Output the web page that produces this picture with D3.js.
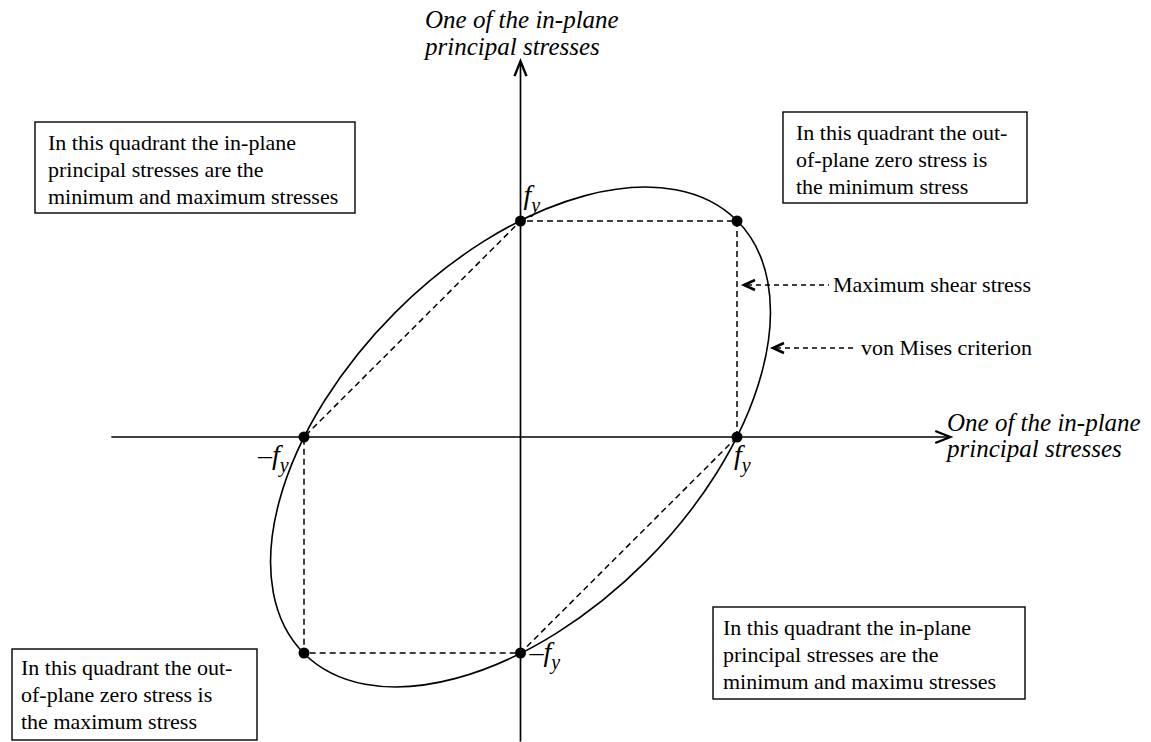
<!DOCTYPE html>
<html>
<head>
<meta charset="utf-8">
<script src="https://cdn.jsdelivr.net/npm/d3@7/dist/d3.min.js"></script>
<style>
  body { margin: 0; background: #fff; }
  svg { display: block; }
  text { font-family: "Liberation Serif", "Times New Roman", serif; fill: #000; }
</style>
</head>
<body>
<div id="chart"></div>
<script>
//width and height
var chart_width = 1151;
var chart_height = 742;

// principal stresses, in units of fy
var yield_points = [[1, 0], [1, 1], [0, 1], [-1, 0], [-1, -1], [0, -1]];   // tresca hexagon corners
var vm_axes = [1.414, 0.816];      // von Mises ellipse semi axes (fy)
var vm_angle = 45;                 // degrees
var x_extent = [-1.89, 1.985];
var y_extent = [-1.41, 1.74];

var point_labels = [
    {p: [0, 1], text: "f"},
    {p: [1, 0], text: "f"},
    {p: [-1, 0], text: "\u2013f"},
    {p: [0, -1], text: "\u2013f"}
];

var axis_title = ["One of the in-plane", "principal stresses"];

var box_texts = [
    ["In this quadrant the in-plane", "principal stresses are the", "minimum and maximum stresses"],
    ["In this quadrant the out-", "of-plane zero stress is", "the minimum stress"],
    ["In this quadrant the out-", "of-plane zero stress is", "the maximum stress"],
    ["In this quadrant the in-plane", "principal stresses are the", "minimum and maximu stresses"]
];

var callouts = ["Maximum shear stress", "von Mises criterion"];

//scales
var x = d3.scaleLinear().domain([-1, 1]).range([304, 737]);
var y = d3.scaleLinear().domain([-1, 1]).range([653, 221]);

var svg = d3.select("#chart")
            .append("svg")
            .attr("width", chart_width)
            .attr("height", chart_height);

// axes
var x0 = x(0), y0 = y(0);
svg.append("line")
    .attr("x1", x(x_extent[0])).attr("x2", x(x_extent[1]))
    .attr("y1", y0).attr("y2", y0)
    .attr("stroke", "#000").attr("stroke-width", 1.7);
svg.append("line")
    .attr("x1", x0).attr("x2", x0)
    .attr("y1", y(y_extent[0])).attr("y2", y(y_extent[1]))
    .attr("stroke", "#000").attr("stroke-width", 1.7);

var xt = x(x_extent[1]), yt = y(y_extent[1]);
svg.append("path")
    .attr("d", "M" + (xt - 15) + "," + (y0 - 6) + "L" + xt + "," + y0 + "L" + (xt - 15) + "," + (y0 + 6))
    .attr("fill", "none").attr("stroke", "#000").attr("stroke-width", 2.4);
svg.append("path")
    .attr("d", "M" + (x0 - 6) + "," + (yt + 15) + "L" + x0 + "," + yt + "L" + (x0 + 6) + "," + (yt + 15))
    .attr("fill", "none").attr("stroke", "#000").attr("stroke-width", 2.4);

// axis titles
var ytitle = svg.append("text").attr("font-size", 25).attr("font-style", "italic");
axis_title.forEach(function(t, i) {
    ytitle.append("tspan").attr("x", 425).attr("y", 28 + i * 27).text(t);
});
var xtitle = svg.append("text").attr("font-size", 25).attr("font-style", "italic");
axis_title.forEach(function(t, i) {
    xtitle.append("tspan").attr("x", 947).attr("y", 431 + i * 26).text(t);
});

// von Mises ellipse
svg.append("ellipse")
    .attr("cx", x0).attr("cy", y0)
    .attr("rx", x(vm_axes[0]) - x0)
    .attr("ry", x(vm_axes[1]) - x0)
    .attr("transform", "rotate(" + (-vm_angle) + "," + x0 + "," + y0 + ")")
    .attr("fill", "none").attr("stroke", "#000").attr("stroke-width", 1.6);

// maximum shear stress (tresca) hexagon
var hex = d3.line()
    .x(function(d) { return x(d[0]); })
    .y(function(d) { return y(d[1]); })
    .curve(d3.curveLinearClosed);
svg.append("path")
    .attr("d", hex(yield_points))
    .attr("fill", "none").attr("stroke", "#000")
    .attr("stroke-width", 1.5).attr("stroke-dasharray", "6,4");

svg.selectAll("circle.pt")
    .data(yield_points)
    .enter()
    .append("circle")
    .attr("class", "pt")
    .attr("cx", function(d) { return x(d[0]); })
    .attr("cy", function(d) { return y(d[1]); })
    .attr("r", 5.5)
    .attr("fill", "#000");

// fy labels
var label_offsets = {"0,1": [3, -17], "1,0": [-3, 27], "-1,0": [-46, 27], "0,-1": [9, 8]};
svg.selectAll("text.fy")
    .data(point_labels)
    .enter()
    .append("text")
    .attr("class", "fy")
    .attr("font-size", 28)
    .attr("font-style", "italic")
    .attr("x", function(d) { return x(d.p[0]) + label_offsets[d.p.join(",")][0]; })
    .attr("y", function(d) { return y(d.p[1]) + label_offsets[d.p.join(",")][1]; })
    .each(function(d) {
        var t = d3.select(this);
        t.append("tspan").text(d.text);
        t.append("tspan").attr("font-size", 20).attr("dy", 8).text("y");
    });

// boxes
var box_layout = [
    {x: 35, y: 122, w: 320, h: 91, tx: 48, pad: 28},
    {x: 783, y: 112, w: 244, h: 91, tx: 796, pad: 28},
    {x: 12, y: 649, w: 245, h: 91, tx: 21, pad: 26},
    {x: 713, y: 607, w: 312, h: 92, tx: 723, pad: 28}
];
box_layout.forEach(function(b, i) {
    svg.append("rect")
        .attr("x", b.x).attr("y", b.y).attr("width", b.w).attr("height", b.h)
        .attr("fill", "#fff").attr("stroke", "#000").attr("stroke-width", 1.4);
    var t = svg.append("text").attr("font-size", 22);
    box_texts[i].forEach(function(line, j) {
        t.append("tspan").attr("x", b.tx).attr("y", b.y + b.pad + j * 27).text(line);
    });
});

// call-outs with dashed arrows
var callout_layout = [
    {tip: 744, end: 829, y: 285, tx: 833},
    {tip: 773, end: 856, y: 348, tx: 861}
];
callout_layout.forEach(function(c, i) {
    svg.append("line")
        .attr("x1", c.tip + 3).attr("x2", c.end)
        .attr("y1", c.y).attr("y2", c.y)
        .attr("stroke", "#000").attr("stroke-width", 1.4).attr("stroke-dasharray", "5,4");
    svg.append("path")
        .attr("d", "M" + (c.tip + 11) + "," + (c.y - 5) + "L" + c.tip + "," + c.y + "L" + (c.tip + 11) + "," + (c.y + 5))
        .attr("fill", "none").attr("stroke", "#000").attr("stroke-width", 2.6);
    svg.append("text")
        .attr("x", c.tx).attr("y", c.y + 7)
        .attr("font-size", 22)
        .text(callouts[i]);
});
</script>
</body>
</html>
